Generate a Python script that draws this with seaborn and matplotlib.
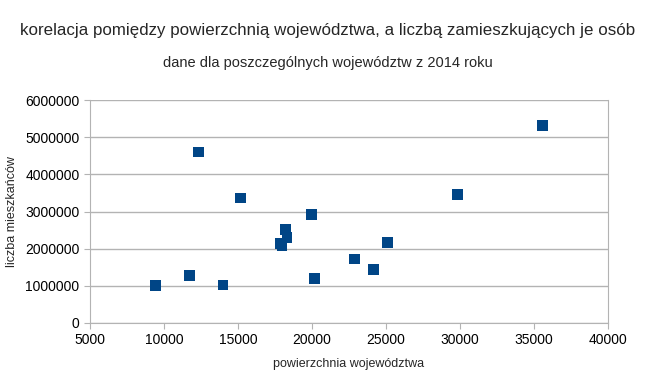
import numpy as np
import pandas as pd
import matplotlib
matplotlib.use("Agg")
from matplotlib import pyplot as plt
import seaborn as sns

# powierzchnia [km2] i liczba mieszkancow wojewodztw, 2014
wojewodztwa = ['dolnośląskie', 'kujawsko-pomorskie', 'lubelskie', 'lubuskie',
               'łódzkie', 'małopolskie', 'mazowieckie', 'opolskie',
               'podkarpackie', 'podlaskie', 'pomorskie', 'śląskie',
               'świętokrzyskie', 'warmińsko-mazurskie', 'wielkopolskie',
               'zachodniopomorskie']
powierzchnia = [19947, 17972, 25122, 13988, 18219, 15183, 35558, 9412,
                17846, 20187, 18310, 12333, 11711, 24173, 29826, 22892]
mieszkancy = [2909997, 2092564, 2156150, 1021470, 2513093, 3360581, 5316840,
              1004416, 2129294, 1194965, 2295811, 4599447, 1268239, 1446915,
              3467016, 1718861]

df = pd.DataFrame({'woj': wojewodztwa, 'pow': powierzchnia, 'miesz': mieszkancy})

sns.set_style('white')
plt.rcParams['font.family'] = ['Liberation Sans', 'DejaVu Sans']

fig = plt.figure(figsize=(6.56, 3.76), dpi=100)
ax = fig.add_axes([90 / 656, 1 - 323 / 376, 518 / 656, 223 / 376])

sns.scatterplot(data=df, x='pow', y='miesz', marker='s', s=60,
                color='#004586', edgecolor='none', ax=ax, zorder=3)

ax.set_xlim(5000, 40000)
ax.set_ylim(0, 6000000)
ax.set_xticks(np.arange(5000, 40001, 5000))
ax.set_yticks(np.arange(0, 6000001, 1000000))
ax.ticklabel_format(style='plain', useOffset=False)
ax.grid(axis='y', color='#b3b3b3', linewidth=1)
for s in ax.spines.values():
    s.set_color('#b3b3b3')
ax.spines['top'].set_visible(False)
ax.tick_params(axis='both', labelsize=10, colors='#000000', length=4,
               color='#b3b3b3', direction='out', bottom=True, left=True)

ax.set_xlabel('powierzchnia województwa', fontsize=9)
ax.set_ylabel('liczba mieszkańców', fontsize=9)
ax.xaxis.set_label_coords(0.5, (323 - 358) / 223)
ax.yaxis.set_label_coords((18 - 90) / 518, 0.5)

fig.text(0.5, 1 - 30 / 376, 'korelacja pomiędzy powierzchnią województwa, a liczbą zamieszkujących je osób',
         ha='center', va='center', fontsize=12.2)
fig.text(0.5, 1 - 63 / 376, 'dane dla poszczególnych województw z 2014 roku',
         ha='center', va='center', fontsize=10.5)

fig.savefig('out.png', dpi=100)
